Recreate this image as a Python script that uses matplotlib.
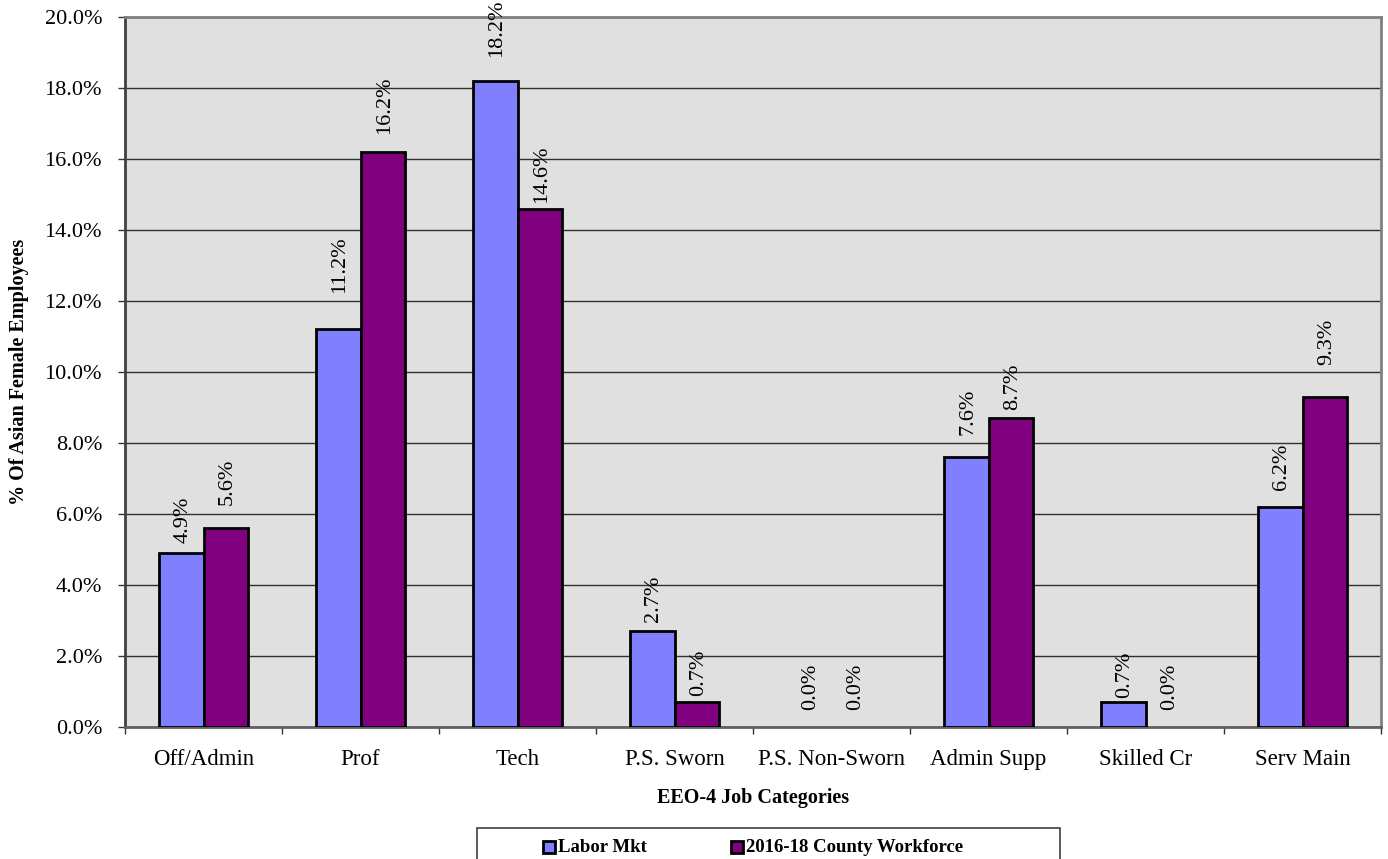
import numpy as np
import matplotlib
matplotlib.use("Agg")
import matplotlib.pyplot as plt
from matplotlib.patches import Rectangle
from matplotlib.ticker import FuncFormatter

plt.rcParams["font.family"] = ["Liberation Serif", "DejaVu Serif"]

categories = ["Off/Admin", "Prof", "Tech", "P.S. Sworn", "P.S. Non-Sworn",
              "Admin Supp", "Skilled Cr", "Serv Main"]
labor_mkt = [4.9, 11.2, 18.2, 2.7, 0.0, 7.6, 0.7, 6.2]
county_wf = [5.6, 16.2, 14.6, 0.7, 0.0, 8.7, 0.0, 9.3]
series_names = ["Labor Mkt", "2016-18 County Workforce"]
colors = ["#8080FF", "#800080"]

# gap (pixels) between bar top and its rotated label, as placed in the original
gap_labor = [10, 36, 24, 9, 17, 22, 4, 17]
gap_county = [23, 18, 6, 6, 17, 8, 17, 32]

W, H = 1388, 859
PX = 72 / 100  # points per pixel
fig = plt.figure(figsize=(W / 100, H / 100), dpi=100)
fig.patch.set_facecolor("white")
ax = fig.add_axes([125 / W, 1 - 727 / H, (1381 - 125) / W, (727 - 17) / H])
ax.set_facecolor("#E0E0E0")

x = np.arange(len(categories))
bw = 0.285
for vals, gaps, off, col in [(labor_mkt, gap_labor, -bw / 2, colors[0]),
                             (county_wf, gap_county, bw / 2, colors[1])]:
    lw = [2 if v > 0 else 0 for v in vals]
    ax.bar(x + off, vals, width=bw, color=col, edgecolor="black", linewidth=lw, zorder=3)
    for xi, v, g in zip(x + off, vals, gaps):
        ax.annotate(f"{v:.1f}%", (xi, v), xytext=(1.5 * PX, g * PX), textcoords="offset points",
                    rotation=90, ha="center", va="bottom", fontsize=16, zorder=4,
                    annotation_clip=False)

ax.set_xlim(-0.5, len(categories) - 0.5)
ax.set_ylim(0, 20)
ax.set_yticks(np.arange(0, 20.1, 2))
ax.yaxis.set_major_formatter(FuncFormatter(lambda v, p: f"{v:.1f}%"))
ax.grid(axis="y", color="#303030", linewidth=1, zorder=1)
ax.set_axisbelow(True)

ax.set_xticks(x)
ax.set_xticklabels(categories, fontsize=16.5)
ax.set_xticks(np.arange(-0.5, len(categories), 1), minor=True)
ax.tick_params(axis="x", which="major", length=0, pad=16)
ax.tick_params(axis="x", which="minor", length=5, width=1, color="#333333", direction="out")
ax.tick_params(axis="y", labelsize=16, length=5, width=1, color="#333333", pad=11.5)

for side, col in [("left", "#404040"), ("bottom", "#606060"), ("top", "#808080"), ("right", "#808080")]:
    ax.spines[side].set_color(col)
    ax.spines[side].set_linewidth(2)

ax.set_xlabel("EEO-4 Job Categories", fontsize=14.5, fontweight="bold", labelpad=13)
ax.set_ylabel("% Of Asian Female Employees", fontsize=14.5, fontweight="bold")
ax.yaxis.set_label_coords((29 - 125) / (1381 - 125), 0.5)

# legend box drawn by hand (it runs past the bottom edge)
tf = fig.transFigure
fig.add_artist(Rectangle((477 / W, 1 - 872 / H), (1060 - 477) / W, 44 / H,
                         transform=tf, facecolor="white", edgecolor="#404040", linewidth=1.2))
ymid = 1 - 847 / H
for mx, name, col in [(543, series_names[0], colors[0]), (731, series_names[1], colors[1])]:
    fig.add_artist(Rectangle((mx / W, ymid - 6 / H), 12 / W, 12 / H, transform=tf,
                             facecolor=col, edgecolor="black", linewidth=2))
    fig.text((mx + 15) / W, ymid, name, fontsize=13.5, fontweight="bold",
             ha="left", va="center")

fig.savefig("out.png", dpi=100)
